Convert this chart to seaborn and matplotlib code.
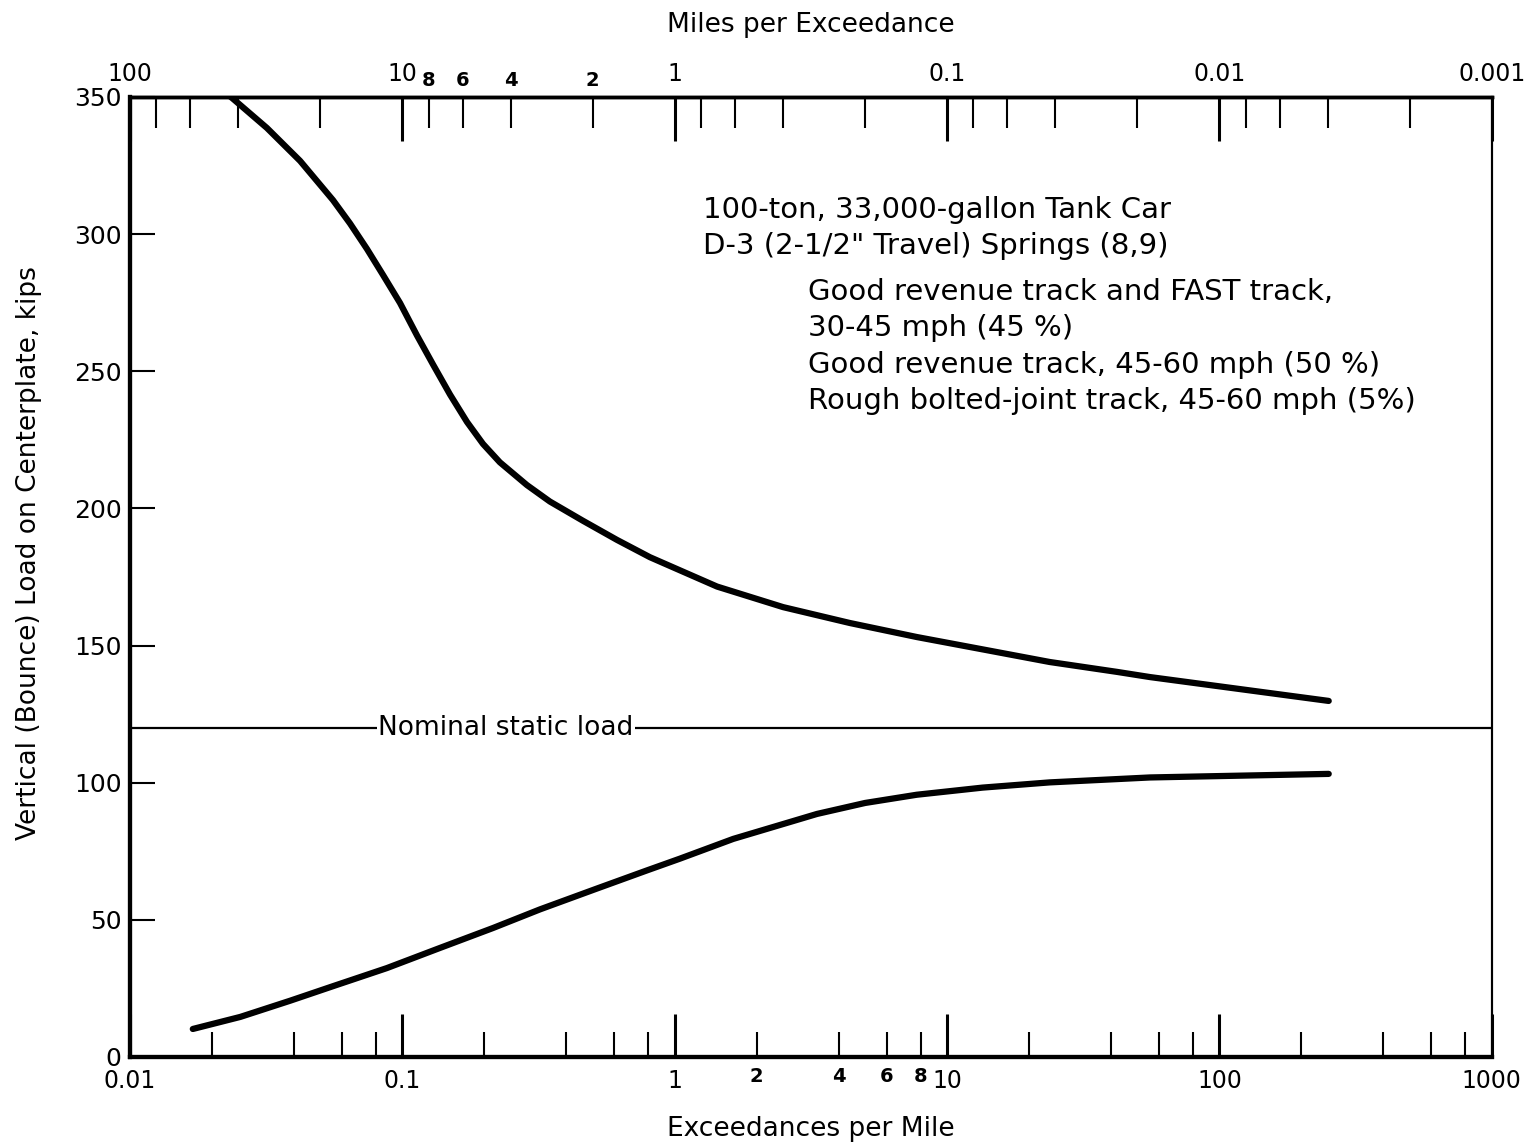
import matplotlib
matplotlib.use("Agg")
import matplotlib.pyplot as plt
import seaborn as sns

# values (exceedances per mile vs. load in kips)
upper_exc = [0.0228, 0.0239, 0.0318, 0.0421, 0.0556, 0.0642, 0.0741, 0.0849, 0.098,
             0.1132, 0.1295, 0.1496, 0.1727, 0.1977, 0.228, 0.2866, 0.348, 0.46,
             0.614, 0.811, 1.43, 2.5, 4.4, 7.74, 13.5, 23.8, 42.0, 55.6, 252]
upper_load = [351, 349.3, 338.7, 326.7, 312.4, 303.9, 294.6, 285.1, 274.9,
              263.0, 252.5, 241.5, 231.5, 223.5, 216.8, 208.5, 202.5, 195.5,
              188.5, 182.2, 171.5, 164.0, 158.2, 153.1, 148.6, 144.0, 140.4, 138.5,
              129.8]

lower_exc = [0.017, 0.0254, 0.0387, 0.0556, 0.0877, 0.137, 0.215, 0.32, 0.518,
             0.79, 1.045, 1.64, 3.33, 5.0, 7.74, 13.5, 23.8, 55.6, 252]
lower_load = [10.2, 14.6, 20.5, 25.8, 32.4, 39.7, 47.0, 53.8, 61.4,
              68.0, 72.3, 79.5, 88.6, 92.6, 95.6, 98.2, 100.1, 101.9, 103.2]

nominal_load = 120

bottom_major = [0.01, 0.1, 1, 10, 100, 1000]
bottom_major_labels = ["0.01", "0.1", "1", "10", "100", "1000"]
top_major = [100, 10, 1, 0.1, 0.01, 0.001]
top_major_labels = ["100", "10", "1", "0.1", "0.01", "0.001"]
minor_steps = [2, 4, 6, 8]
y_ticks = [0, 50, 100, 150, 200, 250, 300, 350]

annot_head = ["100-ton, 33,000-gallon Tank Car",
              "D-3 (2-1/2\" Travel) Springs (8,9)"]
annot_body = ["Good revenue track and FAST track,",
              "30-45 mph (45 %)",
              "Good revenue track, 45-60 mph (50 %)",
              "Rough bolted-joint track, 45-60 mph (5%)"]

sns.set_style("ticks")
plt.rcParams["font.family"] = ["DejaVu Sans"]
for key in ["text.color", "axes.labelcolor", "xtick.color", "ytick.color", "axes.edgecolor"]:
    plt.rcParams[key] = "black"

fig = plt.figure(figsize=(15.3, 11.46), dpi=100)
ax = fig.add_axes([0.085, 0.0777, 0.890, 0.8377])

sns.lineplot(x=upper_exc, y=upper_load, ax=ax, color="black", lw=4.5,
             sort=False, estimator=None, solid_capstyle="round",
             solid_joinstyle="round")
sns.lineplot(x=lower_exc, y=lower_load, ax=ax, color="black", lw=4.5,
             sort=False, estimator=None, solid_capstyle="round",
             solid_joinstyle="round")
ax.axhline(nominal_load, color="black", lw=1.6, zorder=1)
ax.text(0.24, nominal_load, "Nominal static load", ha="center", va="center",
        fontsize=19, bbox=dict(facecolor="white", edgecolor="none", pad=1))

ax.set_xscale("log")
ax.set_xlim(bottom_major[0], bottom_major[-1])
ax.set_ylim(y_ticks[0], y_ticks[-1])

# bottom axis ticks
ax.set_xticks(bottom_major, bottom_major_labels)
minor_pos = [k * d for d in bottom_major[:-1] for k in minor_steps]
minor_lab = [str(k) if d == 1 else "" for d in bottom_major[:-1] for k in minor_steps]
ax.set_xticks(minor_pos, minor_lab, minor=True)
ax.tick_params(axis="x", which="major", direction="in", length=31, width=2.2,
               labelsize=17, pad=9)
ax.tick_params(axis="x", which="minor", direction="in", length=18, width=1.5,
               labelsize=14, pad=7)
for lab in ax.get_xticklabels(minor=True):
    lab.set_fontweight("bold")

ax.set_yticks(y_ticks)
ax.tick_params(axis="y", direction="in", length=18, width=1.5,
               labelsize=18, pad=6)

# top axis: miles per exceedance = 1 / exceedances per mile
top = ax.twiny()
top.set_xscale("log")
top.set_xlim(ax.get_xlim())
top.set_xticks([1 / m for m in top_major], top_major_labels)
top_minor = [k * d for d in top_major[1:] for k in minor_steps]
top.set_xticks([1 / m for m in top_minor],
               [str(k) if d == 1 else "" for d in top_major[1:] for k in minor_steps],
               minor=True)
top.tick_params(axis="x", which="major", direction="in", length=32, width=2.2,
                labelsize=17, pad=8)
top.tick_params(axis="x", which="minor", direction="in", length=22, width=1.5,
                labelsize=14, pad=5)
for lab in top.get_xticklabels(minor=True):
    lab.set_fontweight("bold")

for a in (ax, top):
    a.spines["left"].set_linewidth(3)
    a.spines["bottom"].set_linewidth(3)
    a.spines["top"].set_linewidth(2.5)
    a.spines["right"].set_linewidth(1.5)
    a.spines["right"].set_visible(True)
    a.spines["top"].set_visible(True)

ax.set_xlabel("Exceedances per Mile", fontsize=19)
ax.xaxis.set_label_coords(0.5, -0.062)
top.set_xlabel("Miles per Exceedance", fontsize=19)
top.xaxis.set_label_coords(0.5, 1.068)
ax.set_ylabel("Vertical (Bounce) Load on Centerplate, kips", fontsize=19)
ax.yaxis.set_label_coords(-0.0646, 0.525)

for i, line in enumerate(annot_head):
    ax.text(0.421, 0.882 - i * 0.037, line, transform=ax.transAxes,
            fontsize=21, va="center", ha="left")
for i, line in enumerate(annot_body):
    ax.text(0.498, 0.797 - i * 0.038, line, transform=ax.transAxes,
            fontsize=21, va="center", ha="left")

fig.savefig("out.png", dpi=100)
